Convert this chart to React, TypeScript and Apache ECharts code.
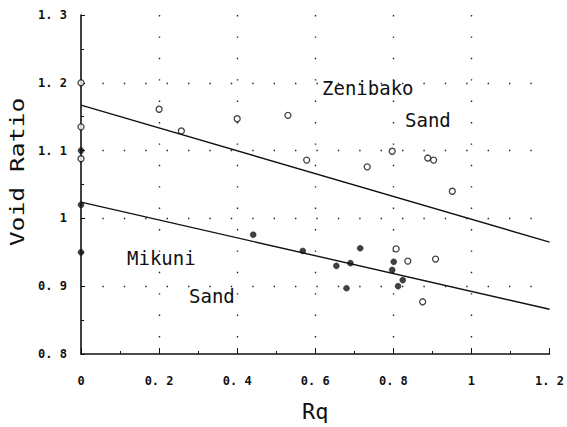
import React, { useEffect, useRef } from "react";
import * as echarts from "echarts";

const xTicks = [0, 0.2, 0.4, 0.6, 0.8, 1.0, 1.2];
const yTicks = [0.8, 0.9, 1.0, 1.1, 1.2, 1.3];

// Zenibako Sand (open circles)
const zenibako: [number, number][] = [
  [0, 1.2], [0, 1.135], [0, 1.088],
  [0.2, 1.161], [0.257, 1.129], [0.4, 1.147], [0.53, 1.152],
  [0.578, 1.086], [0.733, 1.076], [0.797, 1.099], [0.888, 1.089],
  [0.903, 1.086], [0.951, 1.04], [0.807, 0.955], [0.837, 0.937],
  [0.908, 0.94], [0.875, 0.877],
];

// Mikuni Sand (filled circles)
const mikuni: [number, number][] = [
  [0, 1.1], [0, 1.02], [0, 0.95],
  [0.441, 0.976], [0.568, 0.952], [0.654, 0.93], [0.69, 0.934],
  [0.715, 0.956], [0.68, 0.897], [0.801, 0.936], [0.797, 0.924],
  [0.824, 0.909], [0.812, 0.9],
];

const zenibakoLine: [number, number][] = [[0, 1.167], [1.2, 0.965]];
const mikuniLine: [number, number][] = [[0, 1.024], [1.2, 0.866]];

const fmt = (v: number) => {
  const r = Math.round(v * 10) / 10;
  if (Math.abs(r - Math.round(r)) < 1e-9) return String(Math.round(r));
  return r.toFixed(1).replace(".", ". ");
};

const mono = "DejaVu Sans Mono";
const ink = "#111";

export default function App() {
  const ref = useRef<HTMLDivElement>(null);
  useEffect(() => {
    if (!ref.current) return;
    const chart = echarts.init(ref.current, null, { renderer: "svg" });
    const dotted = { color: "#222", width: 1.4, type: [1.4, 20] as any };
    chart.setOption({
      animation: false,
      backgroundColor: "#fff",
      grid: { left: 81, right: 13, top: 15, bottom: 72 },
      xAxis: {
        type: "value",
        min: xTicks[0],
        max: xTicks[xTicks.length - 1],
        interval: 0.2,
        axisLine: { show: true, onZero: false, lineStyle: { color: ink, width: 1.6 } },
        axisTick: { show: true, inside: true, length: 6, lineStyle: { color: ink, width: 1 } },
        minorTick: { show: true, splitNumber: 2, length: 3, lineStyle: { color: ink } },
        axisLabel: {
          formatter: fmt, margin: 21, color: ink, fontFamily: mono, fontSize: 12, fontWeight: "bold",
        },
        splitLine: { show: true, showMinLine: false, showMaxLine: false, lineStyle: dotted },
        name: "Rq",
        nameLocation: "middle",
        nameGap: 46,
        nameTextStyle: { fontFamily: mono, fontSize: 22, color: ink },
      },
      yAxis: {
        type: "value",
        min: yTicks[0],
        max: yTicks[yTicks.length - 1],
        interval: 0.1,
        axisLine: { show: true, onZero: false, lineStyle: { color: ink, width: 1.6 } },
        axisTick: { show: true, inside: true, length: 4, lineStyle: { color: ink, width: 1 } },
        minorTick: { show: true, splitNumber: 2, length: 3, lineStyle: { color: ink } },
        axisLabel: {
          formatter: fmt, margin: 14, color: ink, fontFamily: mono, fontSize: 12, fontWeight: "bold",
        },
        splitLine: { show: true, showMinLine: false, showMaxLine: false, lineStyle: dotted },
      },
      series: [
        {
          type: "line", data: zenibakoLine, symbol: "none", silent: true,
          lineStyle: { color: ink, width: 1.4 },
        },
        {
          type: "line", data: mikuniLine, symbol: "none", silent: true,
          lineStyle: { color: ink, width: 1.4 },
        },
        {
          type: "scatter", data: zenibako, symbol: "circle", symbolSize: 6,
          itemStyle: { color: "#fff", borderColor: ink, borderWidth: 1.3 },
        },
        {
          type: "scatter", data: mikuni, symbol: "circle", symbolSize: 6,
          itemStyle: { color: ink, borderColor: ink, borderWidth: 0.5 },
        },
      ],
      graphic: [
        {
          type: "text", x: 18, y: 172, rotation: Math.PI / 2, scaleX: 1.3,
          style: { text: "Void Ratio", font: `19px "${mono}"`, fill: ink, align: "center", verticalAlign: "middle" },
        },
        { type: "text", left: 322, top: 78, style: { text: "Zenibako", font: `19px "${mono}"`, fill: ink } },
        { type: "text", left: 405, top: 110, style: { text: "Sand", font: `19px "${mono}"`, fill: ink } },
        { type: "text", left: 127, top: 248, style: { text: "Mikuni", font: `19px "${mono}"`, fill: ink } },
        { type: "text", left: 189, top: 286, style: { text: "Sand", font: `19px "${mono}"`, fill: ink } },
      ],
    });
    return () => chart.dispose();
  }, []);
  return (
    <div
      ref={ref}
      style={{ position: "fixed", left: 0, top: 0, width: 567, height: 427, background: "#fff" }}
    />
  );
}
